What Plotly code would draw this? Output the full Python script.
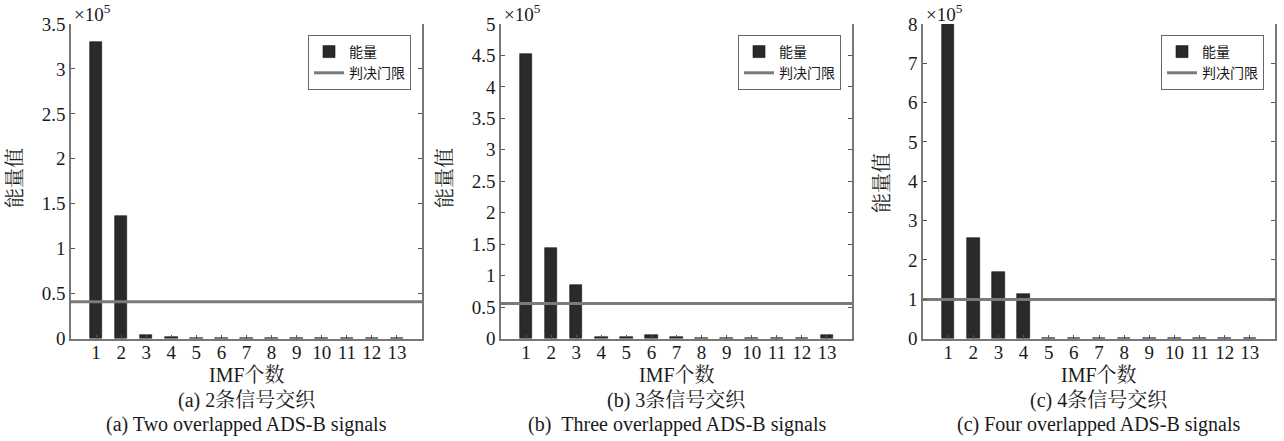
import plotly.graph_objects as go

# Data (energy values in units of 10^5)
imf_index = list(range(1, 14))
energy_two = [3.30, 1.36, 0.035, 0.015, 0.005, 0.004, 0.001, 0.001, 0.001, 0.001, 0.001, 0.001, 0.001]
energy_three = [4.52, 1.44, 0.855, 0.025, 0.02, 0.06, 0.02, 0.008, 0.005, 0.003, 0.001, 0.001, 0.05]
energy_four = [8.0, 2.55, 1.68, 1.14, 0.005, 0.015, 0.005, 0.003, 0.003, 0.003, 0.012, 0.003, 0.012]
thresholds = [0.41, 0.556, 0.99]
y_max = [3.5, 5, 8]
y_step = [0.5, 0.5, 1]
y_ticklabels = [
    ["0", "0.5", "1", "1.5", "2", "2.5", "3", "3.5"],
    ["0", "0.5", "1", "1.5", "2", "2.5", "3", "3.5", "4", "4.5", "5"],
    ["0", "1", "2", "3", "4", "5", "6", "7", "8"],
]
captions_cn = ["(a) 2条信号交织", "(b) 3条信号交织", "(c) 4条信号交织"]
captions_en = ["(a) Two overlapped ADS-B signals",
               "(b)\u00a0\u00a0Three overlapped ADS-B signals",
               "(c) Four overlapped ADS-B signals"]
legend_names = ["能量", "判决门限"]
x_title = "IMF个数"
y_title = "能量值"
exp_label = "×10<sup>5</sup>"

W, H = 1284, 441
FONT = "Liberation Serif, Noto Serif CJK SC, Noto Sans CJK SC, serif"
TXT = "#1a1a1a"

panels_px = [(71, 422), (501, 852), (923, 1275)]
ytop_px, ybot_px = 24, 338.5
ydom = [1 - ybot_px / H, 1 - ytop_px / H]
ytitle_cy = [178, 178, 183]
ytitle_cx = [15, 445, 882]

fig = go.Figure()
series = [energy_two, energy_three, energy_four]
annotations = []
for i in range(3):
    k = "" if i == 0 else str(i + 1)
    xa, ya = "x" + k, "y" + k
    leg = "legend" if i == 0 else "legend" + str(i + 1)
    fig.add_trace(go.Bar(
        x=imf_index, y=series[i], width=0.5, name=legend_names[0],
        marker=dict(color="#2a2a2a", line=dict(color="#111111", width=0.6)),
        xaxis=xa, yaxis=ya, legend=leg, showlegend=True))
    fig.add_trace(go.Scatter(
        x=[0, 14], y=[thresholds[i]] * 2, mode="lines", name=legend_names[1],
        line=dict(color="#7a7a7a", width=3),
        xaxis=xa, yaxis=ya, legend=leg, showlegend=True))

    x0, x1 = panels_px[i]
    dom = [x0 / W, x1 / W]
    ticks_y = [j * y_step[i] for j in range(len(y_ticklabels[i]))]
    tickfont = dict(family="Liberation Serif", size=19, color=TXT)
    fig.update_layout(**{
        "xaxis" + k: dict(domain=dom, range=[0, 14], anchor=ya, automargin=False,
                          tickmode="array", tickvals=imf_index,
                          ticktext=[str(v) for v in imf_index],
                          ticks="inside", ticklen=4, tickcolor="#555", tickwidth=1,
                          ticklabelstandoff=-4,
                          showline=True, linecolor="#777", linewidth=1.5,
                          showgrid=False, zeroline=False, tickfont=tickfont),
        "yaxis" + k: dict(domain=ydom, range=[0, y_max[i]], anchor=xa, automargin=False,
                          tickmode="array", tickvals=ticks_y, ticktext=y_ticklabels[i],
                          ticks="inside", ticklen=4, tickcolor="#555", tickwidth=1,
                          showline=True, linecolor="#777", linewidth=1.5, mirror="ticks",
                          showgrid=False, zeroline=False, tickfont=tickfont),
        "xaxis" + str(i + 4): dict(domain=dom, range=[0, 14], overlaying=xa, side="top",
                                   anchor=ya, automargin=False,
                                   tickmode="array", tickvals=imf_index,
                                   showticklabels=False,
                                   ticks="inside", ticklen=4, tickcolor="#555",
                                   showline=False, showgrid=False, zeroline=False),
        leg: dict(x=(x1 - 11) / W, xanchor="right", y=1 - 35 / H, yanchor="top",
                  bgcolor="white", bordercolor="#666", borderwidth=1,
                  font=dict(family="Noto Sans CJK SC", size=14, color=TXT),
                  itemwidth=30, tracegroupgap=0),
    })
    cx = (x0 + x1) / 2 / W
    annotations += [
        dict(text=exp_label, x=(x0 + 1) / W, y=1 - 13 / H, xref="paper", yref="paper",
             xanchor="left", yanchor="middle", showarrow=False,
             font=dict(family="Liberation Serif", size=19, color=TXT)),
        dict(text=y_title, x=ytitle_cx[i] / W, y=1 - ytitle_cy[i] / H,
             xref="paper", yref="paper", textangle=-90, showarrow=False,
             xanchor="center", yanchor="middle",
             font=dict(family=FONT, size=20, color=TXT)),
        dict(text=x_title, x=cx, y=1 - 375 / H, xref="paper", yref="paper",
             showarrow=False, xanchor="center", yanchor="middle",
             font=dict(family=FONT, size=20, color=TXT)),
        dict(text=captions_cn[i], x=cx, y=1 - 400 / H, xref="paper", yref="paper",
             showarrow=False, xanchor="center", yanchor="middle",
             font=dict(family=FONT, size=20, color=TXT)),
        dict(text=captions_en[i], x=cx, y=1 - 424 / H, xref="paper", yref="paper",
             showarrow=False, xanchor="center", yanchor="middle",
             font=dict(family=FONT, size=20, color=TXT)),
    ]

fig.update_layout(width=W, height=H,
                  margin=dict(l=0, r=0, t=0, b=0, pad=0, autoexpand=False),
                  paper_bgcolor="white", plot_bgcolor="white",
                  font=dict(family=FONT, color=TXT),
                  annotations=annotations, bargap=0, barmode="overlay")
fig.write_html("out.html")
